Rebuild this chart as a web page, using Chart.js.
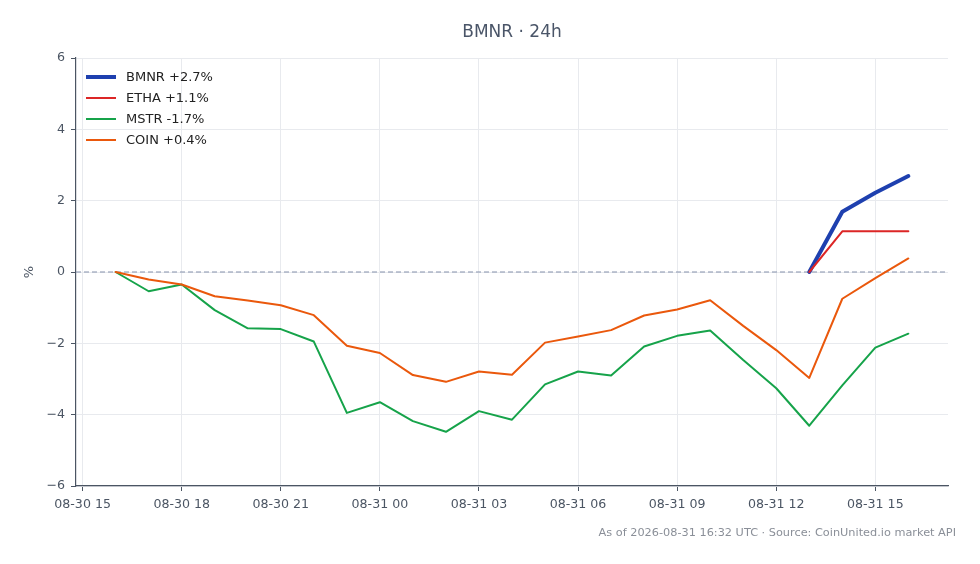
<!DOCTYPE html>
<html>
<head>
<meta charset="utf-8">
<title>BMNR · 24h</title>
<script src="https://cdn.jsdelivr.net/npm/chart.js@4.4.1/dist/chart.umd.min.js"></script>
<style>
  html, body { margin: 0; padding: 0; background: #fff; }
  #wrap { position: relative; width: 980px; height: 564px; font-family: "DejaVu Sans", sans-serif; }
  #legend { position: absolute; left: 86px; top: 66px; font-size: 13px; color: #222; }
  .row { display: flex; align-items: center; height: 21px; }
  .swatch { width: 30px; margin-right: 10px; }
  #footer { position: absolute; right: 24px; top: 526px; font-size: 11.3px; color: #8a8f98; white-space: nowrap; }
</style>
</head>
<body>
<div id="wrap">
  <canvas id="chart" width="980" height="564"></canvas>
  <div id="legend"></div>
  <div id="footer">As of 2026-08-31 16:32 UTC · Source: CoinUnited.io market API</div>
</div>
<script>
// ── Data (hours counted from 08-30 00:00) ─────────────────────
const hours = [16,17,18,19,20,21,22,23,24,25,26,27,28,29,30,31,32,33,34,35,36,37,38,39,40];
const lateHours = [37,38,39,40];

const coin = [0,-0.21,-0.35,-0.68,-0.80,-0.93,-1.21,-2.07,-2.27,-2.89,-3.08,-2.79,-2.88,
              -1.98,-1.81,-1.63,-1.22,-1.05,-0.79,-1.51,-2.19,-2.97,-0.75,-0.17,0.38];
const mstr = [0,-0.54,-0.35,-1.07,-1.58,-1.60,-1.95,-3.95,-3.65,-4.18,-4.48,-3.90,-4.14,
              -3.15,-2.79,-2.90,-2.09,-1.79,-1.64,-2.47,-3.26,-4.31,-3.18,-2.12,-1.73];
const etha = [0,1.14,1.14,1.14];
const bmnr = [0,1.69,2.22,2.69];

const xTicks = [15,18,21,24,27,30,33,36,39];
const xTickLabels = ["08-30 15","08-30 18","08-30 21","08-31 00","08-31 03","08-31 06","08-31 09","08-31 12","08-31 15"];
const yTicks = [-6,-4,-2,0,2,4,6];

const seriesNames = ["BMNR +2.7%","ETHA +1.1%","MSTR -1.7%","COIN +0.4%"];
const seriesColors = ["#1e40af","#dc2626","#16a34a","#ea580c"];
const seriesWidths = [4,2,2,2];

const X_MIN = 14.8, X_MAX = 41.2;

// ── Helpers ───────────────────────────────────────────────────
const pts = (xs, ys) => xs.map((x, i) => ({ x, y: ys[i] }));
const AXIS = "#4b5563", GRID = "#e8eaee";
const TICK_FONT = { family: "DejaVu Sans", size: 12.6 };

function lineSet(i, data, order) {
  return {
    label: seriesNames[i], data, order,
    borderColor: seriesColors[i], backgroundColor: seriesColors[i],
    borderWidth: seriesWidths[i], pointRadius: 0, tension: 0,
    borderJoinStyle: "round", borderCapStyle: "round"
  };
}

// ── Legend (top-left, inside plot) ────────────────────────────
document.getElementById("legend").innerHTML = seriesNames.map((n, i) => `
  <div class="row">
    <div class="swatch" style="height:${seriesWidths[i]}px;background:${seriesColors[i]}"></div>
    <span>${n}</span>
  </div>`).join("");

// ── Chart ─────────────────────────────────────────────────────
new Chart(document.getElementById("chart").getContext("2d"), {
  type: "line",
  data: {
    datasets: [
      lineSet(0, pts(lateHours, bmnr), 4),
      lineSet(1, pts(lateHours, etha), 3),
      lineSet(2, pts(hours, mstr), 2),
      lineSet(3, pts(hours, coin), 1),
      { label: "zero", data: [{ x: X_MIN, y: 0 }, { x: X_MAX, y: 0 }], order: 10,
        borderColor: "#8591ab", borderWidth: 1, borderDash: [5, 3], pointRadius: 0 }
    ]
  },
  options: {
    responsive: false, animation: false,
    layout: { padding: { left: 0, right: 32, top: 0, bottom: 0 } },
    plugins: {
      legend: { display: false },
      tooltip: { enabled: false },
      title: {
        display: true, text: "BMNR · 24h", fullSize: false,
        color: "#4a5568", font: { family: "DejaVu Sans", size: 17, weight: "normal" },
        padding: { top: 22, bottom: 15.6 }
      }
    },
    scales: {
      x: {
        type: "linear", min: X_MIN, max: X_MAX,
        afterBuildTicks: s => { s.ticks = xTicks.map(v => ({ value: v })); },
        afterFit: s => { s.height = 78; },
        ticks: { color: AXIS, font: TICK_FONT, padding: 6,
                 maxRotation: 0, autoSkip: false,
                 callback: v => xTickLabels[xTicks.indexOf(v)] ?? "" },
        grid: { color: GRID, tickColor: AXIS, tickLength: 5, drawTicks: true },
        border: { display: true, color: AXIS, width: 1.2 }
      },
      y: {
        min: -6, max: 6,
        afterBuildTicks: s => { s.ticks = yTicks.map(v => ({ value: v })); },
        afterFit: s => { s.width = 76; },
        ticks: { color: AXIS, font: TICK_FONT, padding: 6,
                 callback: v => String(v).replace("-", "\u2212") },
        grid: { color: GRID, tickColor: AXIS, tickLength: 5, drawTicks: true },
        border: { display: true, color: AXIS, width: 1.2 },
        title: { display: true, text: "%", color: AXIS,
                 font: { family: "DejaVu Sans", size: 13 }, padding: { top: 22, bottom: 0 } }
      }
    }
  }
});
</script>
</body>
</html>
